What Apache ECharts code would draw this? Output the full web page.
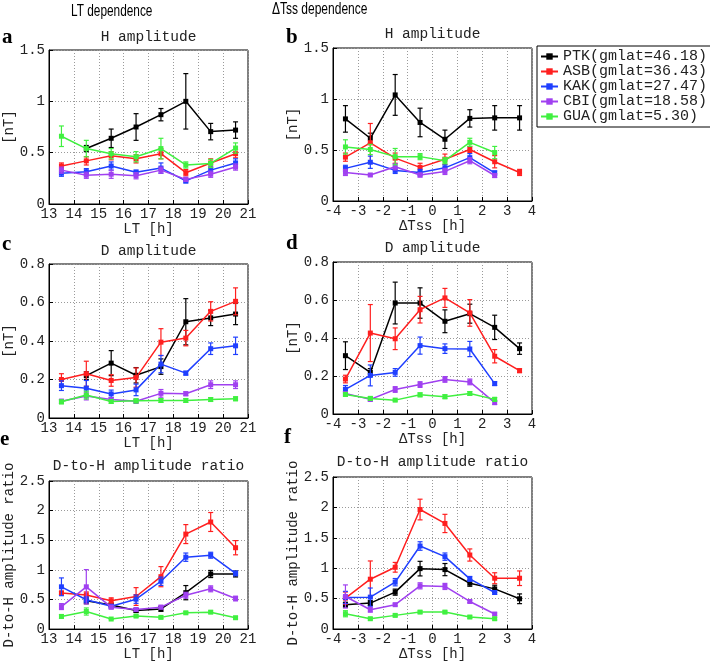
<!DOCTYPE html>
<html>
<head>
<meta charset="utf-8">
<script src="https://cdn.jsdelivr.net/npm/echarts@6/dist/echarts.min.js"></script>
<style>html,body{margin:0;padding:0;background:#fff}#c{width:710px;height:662px}</style>
</head>
<body>
<div id="c"></div>
<script>
const stations = ['PTK(gmlat=46.18)', 'ASB(gmlat=36.43)', 'KAK(gmlat=27.47)', 'CBI(gmlat=18.58)', 'GUA(gmlat=5.30)'];
const colors = ['#000000', '#ff1f1f', '#1f3fff', '#a040f0', '#40f040'];

const ltHours = [13.5, 14.5, 15.5, 16.5, 17.5, 18.5, 19.5, 20.5];
const dtssHours = [-3.5, -2.5, -1.5, -0.5, 0.5, 1.5, 2.5, 3.5];
const ltTicks = [13, 14, 15, 16, 17, 18, 19, 20, 21];
const dtssTicks = [-4, -3, -2, -1, 0, 1, 2, 3, 4];
const hTicks = [0, 0.5, 1, 1.5];
const dTicks = [0, 0.2, 0.4, 0.6, 0.8];
const ratioTicks = [0, 0.5, 1, 1.5, 2, 2.5];

// rows: PTK, ASB, KAK, CBI, GUA
const ltH_val = [
  [null, 0.54, 0.64, 0.75, 0.87, 1.00, 0.705, 0.72],
  [0.37, 0.42, 0.47, 0.44, 0.49, 0.305, 0.40, 0.49],
  [0.30, 0.315, 0.37, 0.31, 0.35, 0.225, 0.33, 0.40],
  [0.33, 0.28, 0.29, 0.275, 0.33, 0.24, 0.29, 0.36],
  [0.66, 0.54, 0.49, 0.46, 0.54, 0.38, 0.395, 0.545]
];
const ltH_err = [
  [null, 0.03, 0.09, 0.13, 0.06, 0.27, 0.08, 0.08],
  [0.03, 0.04, 0.04, 0.04, 0.05, 0.03, 0.04, 0.04],
  [0.03, 0.03, 0.04, 0.02, 0.05, 0.02, 0.03, 0.04],
  [0.03, 0.03, 0.04, 0.03, 0.03, 0.02, 0.03, 0.03],
  [0.10, 0.08, 0.05, 0.05, 0.10, 0.03, 0.04, 0.05]
];
const dtH_val = [
  [0.805, 0.615, 1.04, 0.77, 0.605, 0.81, 0.815, 0.815],
  [0.43, 0.57, 0.42, 0.33, 0.41, 0.505, 0.385, 0.28],
  [0.32, 0.38, 0.30, 0.28, 0.325, 0.425, 0.275, null],
  [0.28, 0.255, 0.335, 0.255, 0.29, 0.395, 0.25, null],
  [0.53, 0.505, 0.435, 0.435, 0.395, 0.575, 0.475, null]
];
const dtH_err = [
  [0.13, 0.05, 0.20, 0.14, 0.09, 0.085, 0.12, 0.12],
  [0.04, 0.19, 0.05, 0.04, 0.05, 0.03, 0.06, 0.03],
  [0.03, 0.06, 0.03, 0.03, 0.03, 0.04, 0.02, null],
  [0.03, 0.01, 0.03, 0.02, 0.03, 0.03, 0.02, null],
  [0.07, 0.05, 0.08, 0.03, 0.03, 0.04, 0.06, null]
];
const ltD_val = [
  [null, 0.22, 0.285, 0.222, 0.267, 0.50, 0.52, 0.54],
  [0.20, 0.23, 0.195, 0.21, 0.394, 0.415, 0.554, 0.606],
  [0.168, 0.155, 0.125, 0.146, 0.28, 0.233, 0.36, 0.375],
  [0.087, 0.114, 0.096, 0.087, 0.128, 0.126, 0.173, 0.173],
  [0.084, 0.119, 0.086, 0.089, 0.091, 0.091, 0.096, 0.10]
];
const ltD_err = [
  [null, 0.02, 0.065, 0.04, 0.04, 0.12, 0.04, 0.055],
  [0.03, 0.065, 0.03, 0.05, 0.07, 0.04, 0.05, 0.07],
  [0.025, 0.04, 0.02, 0.03, 0.045, 0.01, 0.03, 0.045],
  [0.01, 0.02, 0.01, 0.01, 0.02, 0.01, 0.02, 0.02],
  [0.01, 0.02, 0.01, 0.01, 0.01, 0.01, 0.01, 0.01]
];
const dtD_val = [
  [0.307, 0.219, 0.584, 0.584, 0.488, 0.528, 0.456, 0.344],
  [0.184, 0.426, 0.396, 0.549, 0.611, 0.532, 0.304, 0.228],
  [0.13, 0.203, 0.219, 0.36, 0.344, 0.342, 0.16, null],
  [0.108, 0.077, 0.129, 0.155, 0.182, 0.169, 0.06, null],
  [0.103, 0.082, 0.073, 0.101, 0.091, 0.108, 0.077, null]
];
const dtD_err = [
  [0.073, 0.02, 0.11, 0.08, 0.06, 0.05, 0.064, 0.03],
  [0.02, 0.15, 0.057, 0.07, 0.05, 0.07, 0.035, 0.01],
  [0.02, 0.055, 0.02, 0.045, 0.025, 0.04, 0.01, null],
  [0.01, 0.01, 0.015, 0.015, 0.015, 0.015, 0.01, null],
  [0.01, 0.01, 0.005, 0.01, 0.01, 0.01, 0.01, null]
];
const ltR_val = [
  [null, 0.478, 0.407, 0.313, 0.34, 0.615, 0.93, 0.93],
  [0.61, 0.577, 0.478, 0.55, 0.885, 1.604, 1.808, 1.374],
  [0.714, 0.495, 0.385, 0.505, 0.808, 1.214, 1.247, 0.94],
  [0.38, 0.714, 0.37, 0.33, 0.37, 0.571, 0.68, 0.516],
  [0.214, 0.297, 0.17, 0.22, 0.198, 0.275, 0.286, 0.192]
];
const ltR_err = [
  [null, 0.05, 0.03, 0.03, 0.04, 0.12, 0.06, 0.05],
  [0.03, 0.05, 0.05, 0.15, 0.17, 0.16, 0.16, 0.12],
  [0.15, 0.05, 0.03, 0.07, 0.07, 0.07, 0.05, 0.04],
  [0.05, 0.29, 0.03, 0.03, 0.03, 0.05, 0.05, 0.04],
  [0.03, 0.06, 0.01, 0.02, 0.02, 0.02, 0.02, 0.02]
];
const dtR_val = [
  [0.40, 0.426, 0.606, 0.993, 0.977, 0.753, 0.66, 0.497],
  [0.508, 0.819, 1.015, 1.965, 1.736, 1.217, 0.835, 0.835],
  [0.519, 0.524, 0.77, 1.365, 1.19, 0.824, 0.60, null],
  [0.535, 0.317, 0.40, 0.71, 0.70, 0.453, 0.246, null],
  [0.251, 0.169, 0.224, 0.278, 0.278, 0.197, 0.169, null]
];
const dtR_err = [
  [0.04, 0.04, 0.05, 0.12, 0.10, 0.05, 0.06, 0.08],
  [0.10, 0.30, 0.08, 0.17, 0.15, 0.10, 0.09, 0.12],
  [0.10, 0.15, 0.06, 0.07, 0.06, 0.04, 0.03, null],
  [0.19, 0.04, 0.02, 0.05, 0.05, 0.02, 0.02, null],
  [0.05, 0.02, 0.02, 0.02, 0.02, 0.02, 0.02, null]
];

const MONO = "'Liberation Mono', 'DejaVu Sans Mono', monospace";

const panels = [
  {letter:'a', title:'H amplitude', x:ltHours, xt:ltTicks, xname:'LT [h]', yt:hTicks, yname:'[nT]', val:ltH_val, err:ltH_err,
   grid:{left:49, top:50, width:199, height:154}, xgap:17, ygap:30, titleY:37, letterPos:[2,48]},
  {letter:'b', title:'H amplitude', x:dtssHours, xt:dtssTicks, xname:'ΔTss [h]', yt:hTicks, yname:'[nT]', val:dtH_val, err:dtH_err,
   grid:{left:333, top:48, width:199, height:153}, xgap:16, ygap:31, titleY:34, letterPos:[286,48]},
  {letter:'c', title:'D amplitude', x:ltHours, xt:ltTicks, xname:'LT [h]', yt:dTicks, yname:'[nT]', val:ltD_val, err:ltD_err,
   grid:{left:49, top:264, width:199, height:154}, xgap:14, ygap:30, titleY:251, letterPos:[2,255]},
  {letter:'d', title:'D amplitude', x:dtssHours, xt:dtssTicks, xname:'ΔTss [h]', yt:dTicks, yname:'[nT]', val:dtD_val, err:dtD_err,
   grid:{left:333, top:262, width:199, height:152}, xgap:16, ygap:31, titleY:248, letterPos:[286,254]},
  {letter:'e', title:'D-to-H amplitude ratio', x:ltHours, xt:ltTicks, xname:'LT [h]', yt:ratioTicks, yname:'D-to-H amplitude ratio', val:ltR_val, err:ltR_err,
   grid:{left:49, top:481, width:199, height:151}, xgap:9, ygap:33, titleY:466, letterPos:[0,450]},
  {letter:'f', title:'D-to-H amplitude ratio', x:dtssHours, xt:dtssTicks, xname:'ΔTss [h]', yt:ratioTicks, yname:'D-to-H amplitude ratio', val:dtR_val, err:dtR_err,
   grid:{left:333, top:477, width:199, height:152}, xgap:10, ygap:31, titleY:462, letterPos:[284,448]}
];

const grids = [], xAxes = [], yAxes = [], series = [], graphics = [];

function errRender(params, api) {
  const x = api.value(0), y = api.value(1), e = api.value(2);
  const hi = api.coord([x, y + e]);
  const lo = api.coord([x, y - e]);
  const c = api.visual('color');
  const w = 2.5;
  const st = {stroke: c, lineWidth: 1.2};
  return {type:'group', children:[
    {type:'line', shape:{x1:hi[0], y1:hi[1], x2:lo[0], y2:lo[1]}, style:st},
    {type:'line', shape:{x1:hi[0]-w, y1:hi[1], x2:hi[0]+w, y2:hi[1]}, style:st},
    {type:'line', shape:{x1:lo[0]-w, y1:lo[1], x2:lo[0]+w, y2:lo[1]}, style:st}
  ]};
}

panels.forEach((p, i) => {
  grids.push(Object.assign({show:true, borderColor:'#000', borderWidth:1, backgroundColor:'#fff'}, p.grid));
  xAxes.push({
    type:'value', gridIndex:i, min:p.xt[0], max:p.xt[p.xt.length-1], interval:p.xt[1]-p.xt[0],
    name:p.xname, nameLocation:'middle', nameGap:p.xgap,
    nameTextStyle:{fontFamily:MONO, fontSize:14, color:'#222'},
    axisLine:{show:true, onZero:false, lineStyle:{color:'#000', width:1}},
    axisTick:{show:true, inside:true, length:4, lineStyle:{color:'#000'}},
    axisLabel:{fontFamily:MONO, fontSize:14, color:'#222', margin:3, showMinLabel:true, showMaxLabel:true},
    splitLine:{show:true, lineStyle:{color:'#9a9a9a', type:[1,2], width:1}}
  });
  yAxes.push({
    type:'value', gridIndex:i, min:p.yt[0], max:p.yt[p.yt.length-1], interval:p.yt[1]-p.yt[0],
    name:p.yname, nameLocation:'middle', nameGap:p.ygap, nameRotate:90,
    nameTextStyle:{fontFamily:MONO, fontSize:14, color:'#222'},
    axisLine:{show:true, onZero:false, lineStyle:{color:'#000', width:1}},
    axisTick:{show:true, inside:true, length:4, lineStyle:{color:'#000'}},
    axisLabel:{fontFamily:MONO, fontSize:14, color:'#222', margin:4, showMinLabel:true, showMaxLabel:true},
    splitLine:{show:true, lineStyle:{color:'#9a9a9a', type:[1,2], width:1}}
  });
  stations.forEach((s, k) => {
    const pts = [], ebs = [];
    p.x.forEach((xv, j) => {
      const v = p.val[k][j];
      if (v === null || v === undefined) return;
      pts.push([xv, v]);
      const e = p.err[k][j];
      if (e !== null && e !== undefined) ebs.push([xv, v, e]);
    });
    series.push({
      type:'line', name:s, xAxisIndex:i, yAxisIndex:i, data:pts,
      symbol:'rect', symbolSize:5, showSymbol:true,
      itemStyle:{color:colors[k]}, lineStyle:{color:colors[k], width:1.5},
      animation:false, z:2+k
    });
    series.push({
      type:'custom', name:s, xAxisIndex:i, yAxisIndex:i, data:ebs,
      renderItem:errRender, itemStyle:{color:colors[k]},
      animation:false, z:2+k, silent:true
    });
  });
  const cx = p.grid.left + p.grid.width / 2;
  graphics.push({type:'text', x:cx, y:p.titleY, style:{text:p.title, font:"14.5px " + MONO, fill:'#222', textAlign:'center', textVerticalAlign:'middle'}});
  graphics.push({type:'text', x:p.letterPos[0], y:p.letterPos[1], style:{text:p.letter, font:"bold 21px 'Liberation Serif', serif", fill:'#000', textAlign:'left', textVerticalAlign:'bottom'}});
});

graphics.push({type:'text', x:71, y:12, scaleX:0.74, style:{text:'LT dependence', font:"16px 'Liberation Sans', sans-serif", fill:'#000', textAlign:'left', textVerticalAlign:'middle'}});
graphics.push({type:'text', x:272, y:10, scaleX:0.75, style:{text:'ΔTss dependence', font:"16px 'Liberation Sans', sans-serif", fill:'#000', textAlign:'left', textVerticalAlign:'middle'}});

const chart = echarts.init(document.getElementById('c'), null, {renderer:'canvas'});
chart.setOption({
  animation:false,
  backgroundColor:'#fff',
  grid:grids, xAxis:xAxes, yAxis:yAxes, series:series,
  legend:{
    data:stations, orient:'vertical', left:537, top:46,
    padding:[3, 4, 3, 3], itemGap:0, itemWidth:17, itemHeight:8,
    borderColor:'#000', borderWidth:1, backgroundColor:'#fff',
    textStyle:{fontFamily:MONO, fontSize:15, color:'#222', lineHeight:15}
  },
  graphic:graphics
});
</script>
</body>
</html>
